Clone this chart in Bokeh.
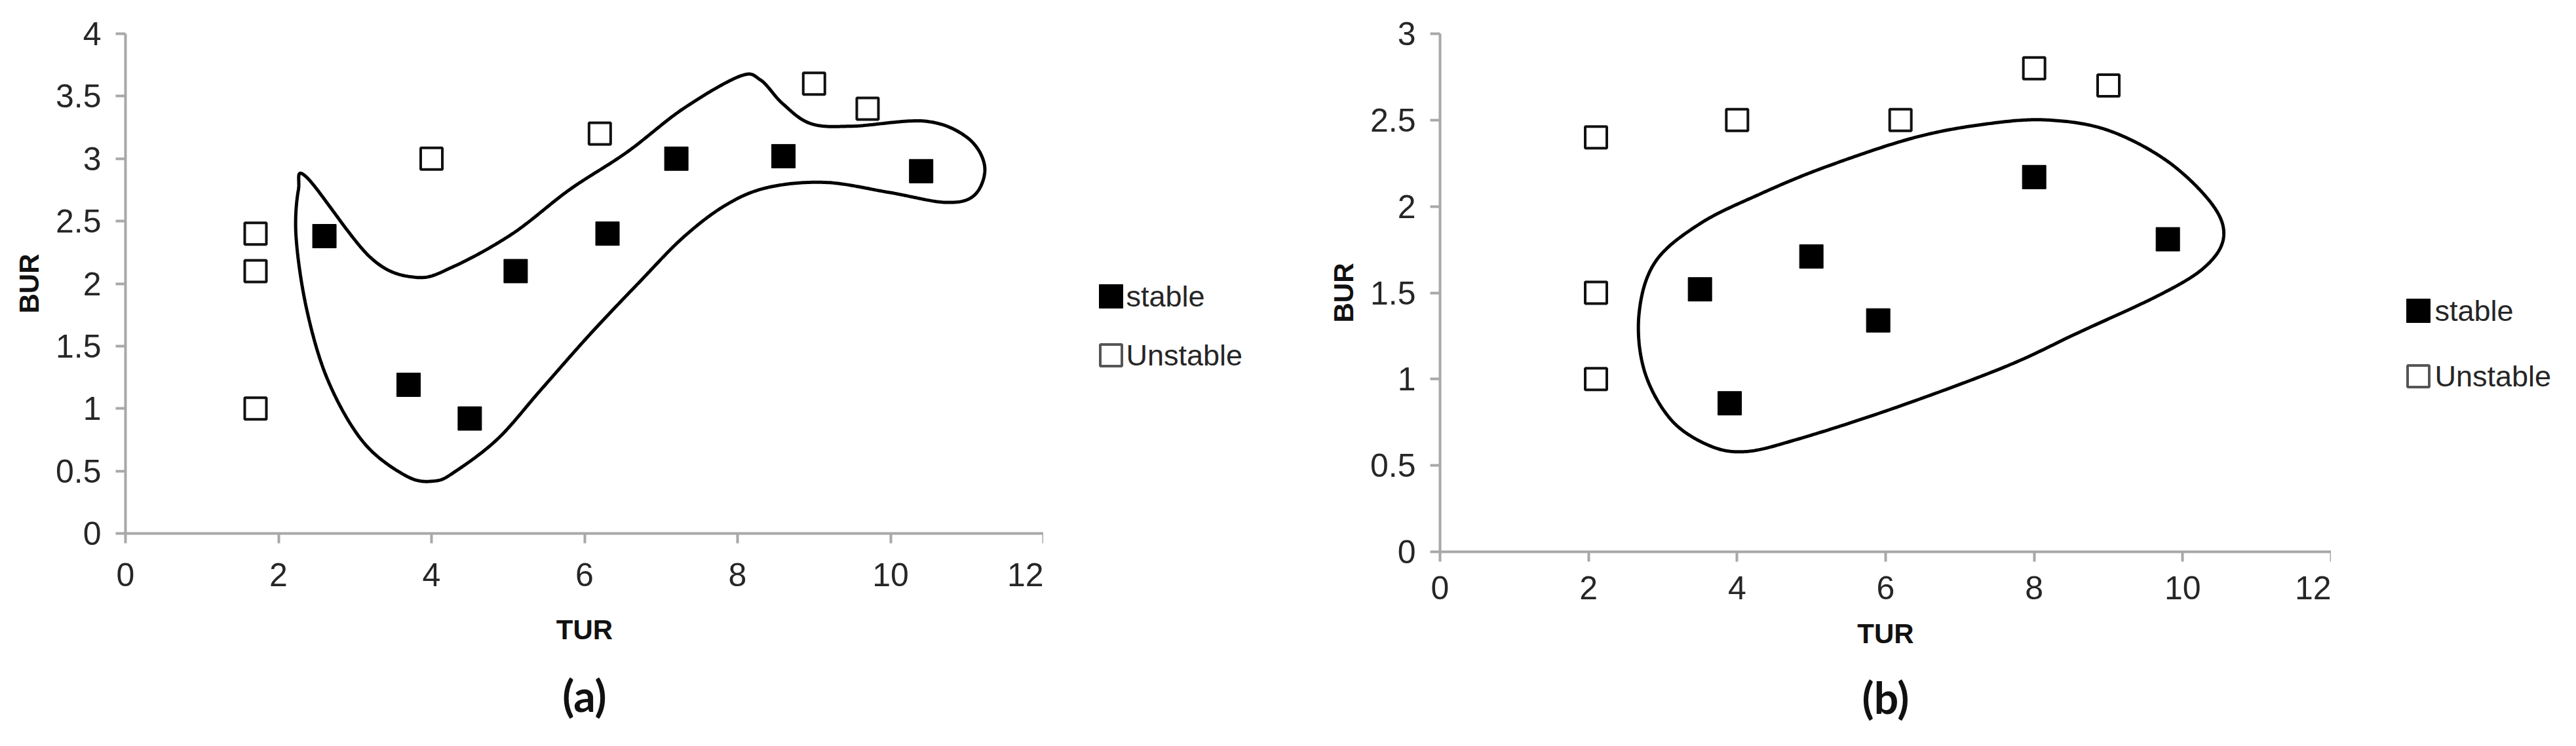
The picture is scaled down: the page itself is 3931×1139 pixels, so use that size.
import numpy as np
from bokeh.plotting import figure
from bokeh.layouts import row
from bokeh.models import Range1d, FixedTicker, NumeralTickFormatter
from bokeh.core.properties import value
from bokeh.embed import file_html
from bokeh.resources import INLINE

# ---------------- data ----------------
x_ticks = [0, 2, 4, 6, 8, 10, 12]
a_y_ticks = [0, 0.5, 1, 1.5, 2, 2.5, 3, 3.5, 4]
b_y_ticks = [0, 0.5, 1, 1.5, 2, 2.5, 3]
legend_labels = ["stable", "Unstable"]

a_stable_x = [2.6, 3.7, 4.5, 5.1, 6.3, 7.2, 8.6, 10.4]
a_stable_y = [2.38, 1.19, 0.92, 2.1, 2.4, 3.0, 3.02, 2.9]
a_unstable_x = [1.7, 1.7, 1.7, 4.0, 6.2, 9.0, 9.7]
a_unstable_y = [2.4, 2.1, 1.0, 3.0, 3.2, 3.6, 3.4]

b_stable_x = [3.5, 3.9, 5.0, 5.9, 8.0, 9.8]
b_stable_y = [1.52, 0.86, 1.71, 1.34, 2.17, 1.81]
b_unstable_x = [2.1, 2.1, 2.1, 4.0, 6.2, 8.0, 9.0]
b_unstable_y = [2.4, 1.5, 1.0, 2.5, 2.5, 2.8, 2.7]

# hand-drawn boundary of the stable region (control points)
a_contour_x = [2.37, 3.2, 3.8, 4.3, 5.06, 5.8, 6.55, 7.29, 8.03, 8.3, 8.59, 8.96, 9.5,
               10.45, 11.0, 11.23, 11.1, 10.72, 9.98, 9.15, 8.4, 7.85, 7.29, 6.73, 6.08,
               5.43, 4.87, 4.32, 4.04, 3.67, 3.11, 2.65, 2.37, 2.23, 2.26]
a_contour_y = [2.85, 2.21, 2.05, 2.14, 2.40, 2.75, 3.05, 3.40, 3.66, 3.63, 3.44, 3.28, 3.26,
               3.30, 3.17, 2.94, 2.71, 2.65, 2.73, 2.81, 2.77, 2.63, 2.37, 2.02, 1.60,
               1.15, 0.76, 0.50, 0.42, 0.46, 0.73, 1.22, 1.79, 2.37, 2.75]
b_contour_x = [8.2, 9.0, 9.8, 10.4, 10.55, 10.3, 9.7, 8.6, 7.6, 6.1, 4.8, 4.1, 3.6, 3.1,
               2.75, 2.68, 2.9, 3.5, 4.3, 5.2, 6.4, 7.4]
b_contour_y = [2.50, 2.44, 2.26, 2.01, 1.82, 1.65, 1.49, 1.27, 1.07, 0.83, 0.65, 0.58, 0.62,
               0.77, 1.05, 1.38, 1.68, 1.90, 2.07, 2.23, 2.40, 2.48]


def closed_spline(xs, ys, n=30):
    P = np.column_stack([xs, ys])
    m = len(P)
    t = np.linspace(0, 1, n, endpoint=False)[:, None]
    segs = []
    for i in range(m):
        p0, p1, p2, p3 = P[(i - 1) % m], P[i], P[(i + 1) % m], P[(i + 2) % m]
        segs.append(0.5 * ((2 * p1) + (-p0 + p2) * t + (2 * p0 - 5 * p1 + 4 * p2 - p3) * t ** 2
                           + (-p0 + 3 * p1 - 3 * p2 + p3) * t ** 3))
    out = np.vstack(segs + [segs[0][:1]])
    return out[:, 0], out[:, 1]


AXIS_COLOR = "#a8a8a8"
TEXT_COLOR = "#262626"
MARKER = 36


def make_panel(caption, sx, sy, ux, uy, cx, cy, ymax, yticks, fw, fh, mb_left, mb_top,
               title_standoff, label_standoff, axis_label_standoff):
    p = figure(frame_width=fw, frame_height=fh, output_backend="svg", toolbar_location=None,
               x_range=Range1d(0, 12), y_range=Range1d(0, ymax),
               title=caption, title_location="below",
               min_border_left=mb_left, min_border_right=0, min_border_top=mb_top,
               min_border_bottom=0)
    p.outline_line_color = None
    p.grid.visible = False
    p.background_fill_color = "white"
    p.border_fill_color = "white"

    bx, by = closed_spline(cx, cy)
    p.line(bx, by, line_color="black", line_width=5)

    p.scatter(sx, sy, marker="square", size=MARKER, fill_color="black",
              line_color="black", line_width=1)
    p.scatter(ux, uy, marker="square", size=MARKER - 3, fill_color="white",
              line_color="#111111", line_width=4)

    p.xaxis.ticker = FixedTicker(ticks=x_ticks)
    p.yaxis.ticker = FixedTicker(ticks=yticks)
    p.yaxis.formatter = NumeralTickFormatter(format="0.[0]")
    for ax in (p.xaxis[0], p.yaxis[0]):
        ax.axis_line_color = AXIS_COLOR
        ax.axis_line_width = 4
        ax.major_tick_line_color = AXIS_COLOR
        ax.major_tick_line_width = 4
        ax.major_tick_in = 0
        ax.major_tick_out = 15
        ax.minor_tick_line_color = None
        ax.major_label_text_font = "Liberation Sans"
        ax.major_label_text_font_size = "50px"
        ax.major_label_text_color = TEXT_COLOR
        ax.axis_label_text_font = "Liberation Sans"
        ax.axis_label_text_font_size = "42px"
        ax.axis_label_text_font_style = "bold"
        ax.axis_label_text_color = "#111111"
    p.xaxis.axis_label = "TUR"
    p.yaxis.axis_label = "BUR"
    p.xaxis.major_label_standoff = label_standoff
    p.yaxis.major_label_standoff = 22
    p.xaxis.axis_label_standoff = axis_label_standoff
    p.yaxis.axis_label_standoff = 14

    p.title.align = "center"
    p.title.text_font = "Lato"
    p.title.text_font_size = "66px"
    p.title.text_font_style = "bold"
    p.title.text_color = "#111111"
    p.title.standoff = title_standoff
    return p


def make_legend(width, height, mx, my, gap, text_dx):
    # a small drawing area in pixel coordinates holding the key of the panel to its left
    # (its top edge is aligned with the top of the neighbouring plotting area)
    lg = figure(frame_width=width, frame_height=height, output_backend="svg",
                toolbar_location=None,
                x_range=Range1d(0, width), y_range=Range1d(height, 0),
                x_axis_type=None, y_axis_type=None,
                min_border_left=0, min_border_right=0, min_border_top=0,
                min_border_bottom=0)
    lg.outline_line_color = None
    lg.grid.visible = False
    lg.border_fill_color = "white"
    lg.background_fill_color = "white"
    ys = [my, my + gap]
    lg.scatter([mx], [ys[0]], marker="square", size=MARKER, fill_color="black",
               line_color="black", line_width=1)
    lg.scatter([mx], [ys[1]], marker="square", size=MARKER - 3, fill_color="white",
               line_color="#555555", line_width=4)
    lg.text(x=[mx + text_dx] * 2, y=ys, text=legend_labels,
            text_font=value("Liberation Sans"), text_font_size="45px",
            text_color=TEXT_COLOR, text_baseline="middle", text_align="left")
    return lg


pa = make_panel("(a)", a_stable_x, a_stable_y, a_unstable_x, a_unstable_y,
                a_contour_x, a_contour_y, 4, a_y_ticks,
                fw=1401, fh=763, mb_left=191, mb_top=51,
                title_standoff=64, label_standoff=30, axis_label_standoff=40)
la = make_legend(408, 763, 103, 401, 90, 23)
pb = make_panel("(b)", b_stable_x, b_stable_y, b_unstable_x, b_unstable_y,
                b_contour_x, b_contour_y, 3, b_y_ticks,
                fw=1360, fh=791, mb_left=197, mb_top=51,
                title_standoff=58, label_standoff=22, axis_label_standoff=26)
lb = make_legend(366, 791, 133, 423, 100, 25)

layout = row(pa, la, pb, lb)
open("out.html", "w").write(file_html(layout, INLINE))
